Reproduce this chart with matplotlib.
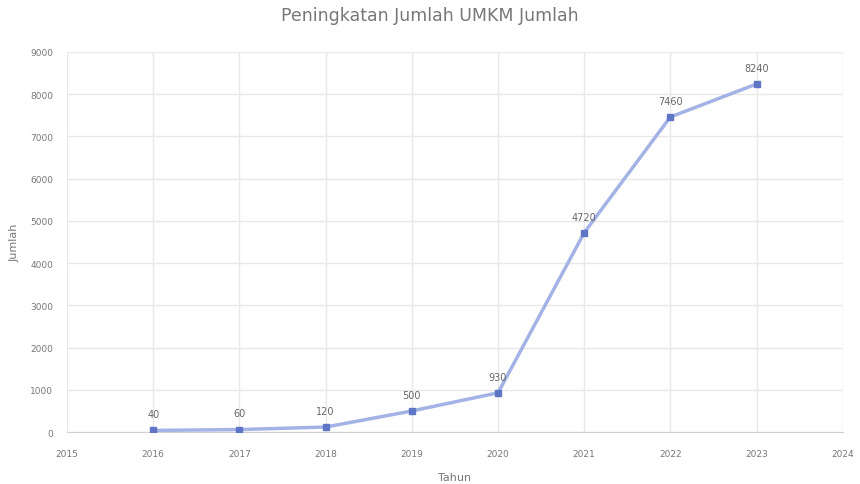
import matplotlib.pyplot as plt

tahun = [2016, 2017, 2018, 2019, 2020, 2021, 2022, 2023]
jumlah = [40, 60, 120, 500, 930, 4720, 7460, 8240]
x_ticks = list(range(2015, 2025))
y_ticks = list(range(0, 9001, 1000))

fig = plt.figure(figsize=(8.6, 4.85), dpi=100)
ax = fig.add_axes([0.078, 0.107, 0.902, 0.784])

ax.plot(tahun, jumlah, color='#a3b3e6', linewidth=2.5, zorder=2)
ax.plot(tahun, jumlah, linestyle='none', marker='s', markersize=5,
        color='#5f76c6', zorder=3)

for x, y in zip(tahun, jumlah):
    ax.annotate(str(y), (x, y), xytext=(0, 8), textcoords='offset points',
                ha='center', va='bottom', fontsize=7, color='#666666')

ax.set_xlim(2015, 2024)
ax.set_ylim(0, 9000)
ax.set_xticks(x_ticks)
ax.set_yticks(y_ticks)
ax.tick_params(axis='x', labelsize=6.5, colors='#777777', length=0, pad=12)
ax.tick_params(axis='y', labelsize=6.5, colors='#777777', length=0, pad=10)
ax.grid(True, color='#e8e8e8', linewidth=1)
ax.set_axisbelow(True)
for s in ['top', 'right', 'left']:
    ax.spines[s].set_visible(False)
ax.spines['bottom'].set_color('#d0d0d0')

ax.set_xlabel('Tahun', fontsize=8, color='#777777', labelpad=10)
ax.set_ylabel('Jumlah', fontsize=8, color='#777777', labelpad=8)
fig.suptitle('Peningkatan Jumlah UMKM Jumlah', x=0.5, y=0.985, fontsize=12.5,
             color='#777777')

fig.savefig('out.png', dpi=100)
